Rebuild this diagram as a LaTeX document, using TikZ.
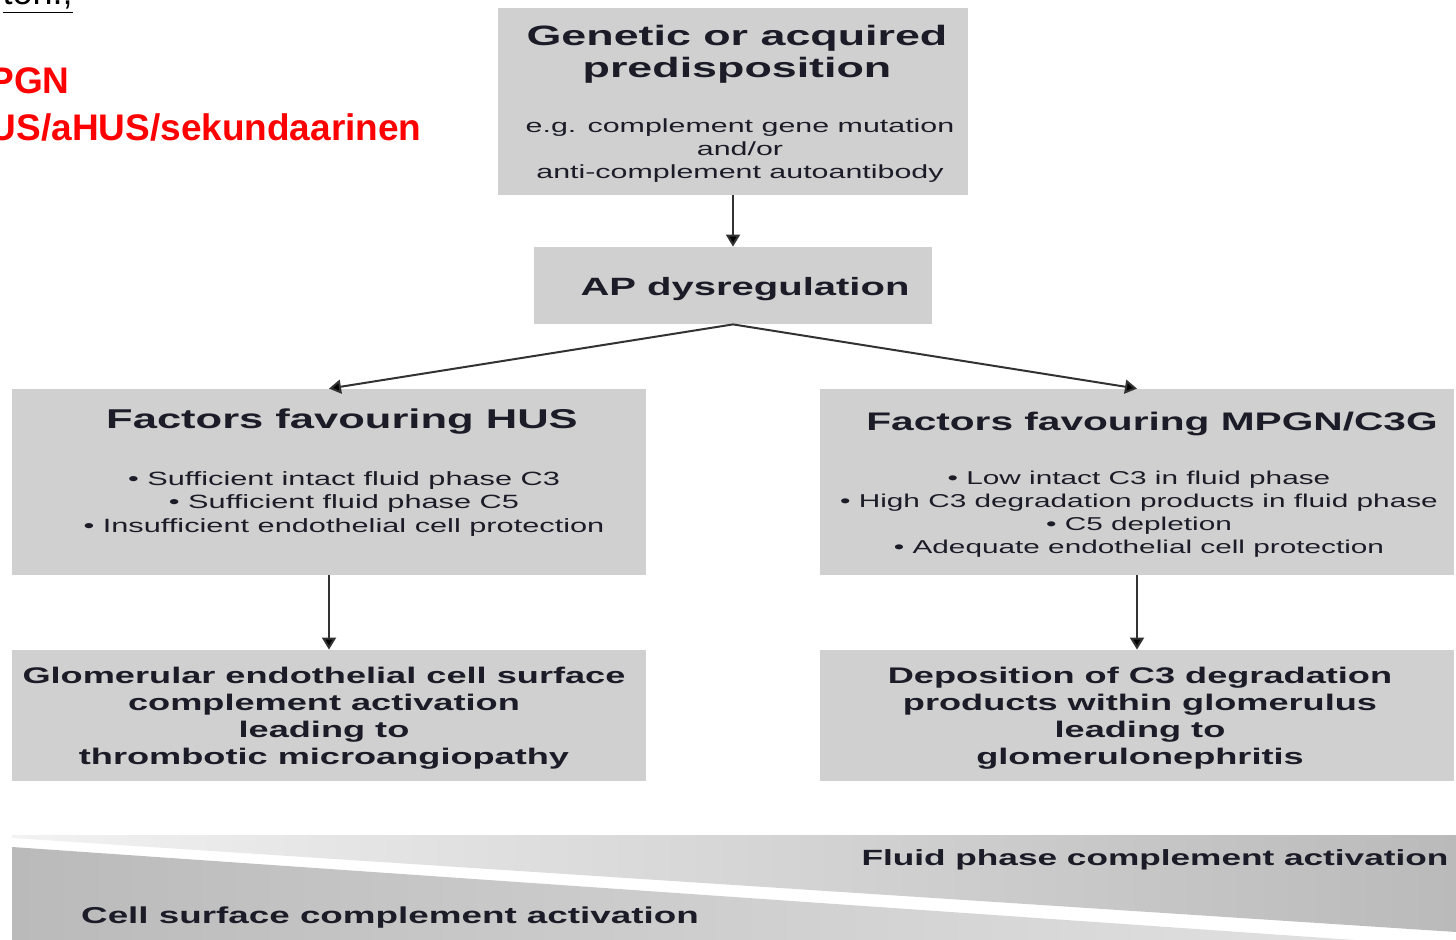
\documentclass[tikz,border=0pt]{standalone}
\usepackage{fontspec}
\setmainfont{Liberation Sans}
\newfontfamily\widefont[FakeStretch=1.6]{Liberation Sans}
\usepackage{tikz}
\usetikzlibrary{arrows.meta}
\usepackage{color}

\definecolor{boxgrey}{RGB}{208,208,208}
\definecolor{txtcol}{RGB}{28,28,40}
\definecolor{arrowgrey}{RGB}{50,50,50}
\definecolor{bandlight}{RGB}{242,242,242}
\definecolor{banddark}{RGB}{186,186,186}
\definecolor{bandmid}{RGB}{228,228,228}

\newcommand\setfs[2]{\fontsize{#1}{#2}\selectfont}

\tikzset{
  greybox/.style={fill=boxgrey, draw=none, inner sep=0pt},
  txt/.style={inner sep=0pt, align=center, text=txtcol},
  flowarrow/.style={draw=arrowgrey, line width=1pt, -{Triangle[width=7pt,length=6pt,fill=black]}},
}

\begin{document}
\begin{tikzpicture}[x=0.5pt,y=0.5pt,yscale=-1,xscale=1]
\useasboundingbox (0,0) rectangle (1456,940);
\clip (0,0) rectangle (1456,940);

%Shape: Bands
\shade [left color=bandlight, right color=banddark] (12,835) -- (1456,835) -- (1456,932) -- (12,838) -- cycle ;
\shade [left color=banddark, right color=bandmid] (12,847) -- (1456,947) -- (1456,960) -- (12,960) -- cycle ;

%Shape: Boxes
\node [greybox, minimum width=235pt, minimum height=93.5pt] (genbox) at (733,101.5) {};
\node [greybox, minimum width=199pt, minimum height=38.5pt] (apbox) at (733,285.5) {};
\node [greybox, minimum width=317pt, minimum height=93pt] (husbox) at (329,482) {};
\node [greybox, minimum width=317pt, minimum height=93pt] (mpgnbox) at (1137,482) {};
\node [greybox, minimum width=317pt, minimum height=65.5pt] (glombox) at (329,715.5) {};
\node [greybox, minimum width=317pt, minimum height=65.5pt] (deposbox) at (1137,715.5) {};

%Straight Lines
\draw [flowarrow] (genbox) -- (apbox) ;
\draw [flowarrow] (apbox.south) -- (husbox.north) ;
\draw [flowarrow] (apbox.south) -- (mpgnbox.north) ;
\draw [flowarrow] (husbox) -- (glombox) ;
\draw [flowarrow] (mpgnbox) -- (deposbox) ;

% Text Node
\node [txt, font={\widefont\bfseries\setfs{14}{16}}] (genhead) at (737,54) {Genetic or acquired\\predisposition};
% Text Node
\node [txt, font={\widefont\setfs{9.5}{11.5}}] (genbody) at (740,151) {e.g. complement gene mutation\\and/or\\anti-complement autoantibody};
% Text Node
\node [txt, font={\widefont\bfseries\setfs{12.5}{15}}] (aptext) at (745,289) {AP dysregulation};
% Text Node
\node [txt, font={\widefont\bfseries\setfs{13.6}{16}}] (hushead) at (342,422) {Factors favouring HUS};
% Text Node
\node [txt, font={\widefont\setfs{9.6}{11.75}}] (husbody) at (344,504) {• Sufficient intact fluid phase C3\\• Sufficient fluid phase C5\\• Insufficient endothelial cell protection};
% Text Node
\node [txt, font={\widefont\bfseries\setfs{12.7}{16}}] (mpgnhead) at (1152,424) {Factors favouring MPGN/C3G};
% Text Node
\node [txt, font={\widefont\setfs{9.3}{11.5}}] (mpgnbody) at (1139,514) {• Low intact C3 in fluid phase\\• High C3 degradation products in fluid phase\\• C5 depletion\\• Adequate endothelial cell protection};
% Text Node
\node [txt, font={\widefont\bfseries\setfs{11.3}{13.5}}] (glomtext) at (324,718) {Glomerular endothelial cell surface\\complement activation\\leading to\\thrombotic microangiopathy};
% Text Node
\node [txt, font={\widefont\bfseries\setfs{11.3}{13.5}}] (depostext) at (1140,718) {Deposition of C3 degradation\\products within glomerulus\\leading to\\glomerulonephritis};
% Text Node
\node [txt, font={\widefont\bfseries\setfs{11}{13}}] (fluidtext) at (1155,860) {Fluid phase complement activation};
% Text Node
\node [txt, font={\widefont\bfseries\setfs{11.5}{13}}] (celltext) at (390,918) {Cell surface complement activation};

% Text Node
\node [inner sep=0pt, anchor=base east, font={\setfs{18}{22}}] (cuttext) at (73,5) {\underline{ton.;}};
% Text Node
\node [inner sep=0pt, anchor=east, text=red, font={\bfseries\setfs{18.5}{22}}] (redtop) at (70,81) {PGN};
% Text Node
\node [inner sep=0pt, anchor=east, text=red, font={\bfseries\setfs{18.5}{22}}] (redbottom) at (422,127) {US/aHUS/sekundaarinen};

\end{tikzpicture}
\end{document}
